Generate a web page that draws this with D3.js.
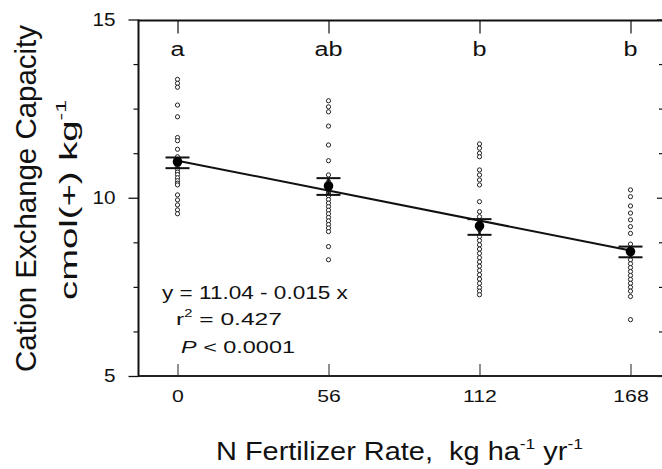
<!DOCTYPE html>
<html>
<head>
<meta charset="utf-8">
<script src="https://cdn.jsdelivr.net/npm/d3@7"></script>
<style>
  html, body { margin: 0; padding: 0; background: #fff; }
  svg { display: block; font-family: "Liberation Sans", Arial, Helvetica, sans-serif; }
</style>
</head>
<body>
<svg id="chart" width="662" height="469"></svg>
<script>
// ---------------- data ----------------
const categories = [0, 56, 112, 168];
const groupLetters = ["a", "ab", "b", "b"];
const obs0   = [13.32, 13.21, 13.10, 12.60, 12.27, 11.69, 11.60, 11.36, 11.15, 11.08, 11.00, 10.95, 10.88, 10.80, 10.72, 10.65, 10.56, 10.48, 10.41, 10.36, 10.08, 9.94, 9.80, 9.66, 9.55];
const obs56  = [12.72, 12.55, 12.41, 12.01, 11.48, 11.04, 10.64, 10.45, 10.20, 10.13, 10.05, 9.95, 9.85, 9.75, 9.65, 9.55, 9.45, 9.35, 9.25, 9.15, 9.05, 8.63, 8.26];
const obs112 = [11.51, 11.39, 11.25, 11.15, 10.78, 10.64, 10.50, 10.36, 9.89, 9.61, 9.47, 9.30, 9.10, 8.91, 8.80, 8.68, 8.56, 8.44, 8.32, 8.20, 8.08, 7.96, 7.84, 7.72, 7.60, 7.48, 7.38, 7.28];
const obs168 = [10.22, 10.03, 9.77, 9.57, 9.38, 9.19, 9.00, 8.70, 8.55, 8.26, 8.15, 8.04, 7.93, 7.82, 7.71, 7.60, 7.49, 7.38, 7.23, 6.58];
const observations = [obs0, obs56, obs112, obs168];
const means   = [11.01, 10.33, 9.21, 8.49];
const seUpper = [11.13, 10.55, 9.40, 8.63];
const seLower = [10.83, 10.08, 8.96, 8.33];
const yMajorTicks = [5, 10, 15];
const yMinorTicks = [6.25, 7.5, 8.75, 11.25, 12.5, 13.75];
const intercept = 11.04, slope = -0.015;
const eqLines = [
  [{t: "y = 11.04 - 0.015 x"}],
  [{t: "r"}, {t: "2", sup: true}, {t: " = 0.427"}],
  [{t: "P", italic: true}, {t: " < 0.0001"}]
];
const yTitle1 = [{t: "Cation Exchange Capacity"}];
const yTitle2 = [{t: "cmol(+) kg"}, {t: "-1", sup: true}];
const xTitle = [{t: "N Fertilizer Rate,  kg ha"}, {t: "-1", sup: true}, {t: " yr"}, {t: "-1", sup: true}];

// ---------------- layout ----------------
const W = 662, H = 469;
const plotLeft = 138.5, plotRight = 664, plotTop = 20.5, plotBottom = 376;
const svg = d3.select("#chart");

const x = d3.scaleLinear().domain([0, 168]).range([177.5, 630.5]);
const y = d3.scaleLinear().domain([5, 15]).range([plotBottom, 19.5]);

// stretched text helper
function stretchText(parent, o) {
  const g = parent.append("g");
  const text = g.append("text")
    .attr("font-size", o.size)
    .attr("text-anchor", o.anchor || "start")
    .attr("fill", "#111")
    .style("white-space", "pre");
  let prevSup = false;
  o.parts.forEach(p => {
    const ts = text.append("tspan").text(p.t);
    if (p.italic) ts.attr("font-style", "italic");
    if (p.sup) {
      ts.attr("font-size", o.size * 0.6).attr("dy", -o.size * 0.45);
      prevSup = true;
    } else if (prevSup) {
      ts.attr("dy", o.size * 0.45);
      prevSup = false;
    }
  });
  const w = text.node().getComputedTextLength();
  const sx = o.width ? o.width / w : (o.sx || 1);
  g.attr("transform", `translate(${o.x},${o.y}) rotate(${o.rotate || 0}) scale(${sx},${o.sy || 1})`);
  return g;
}

// ---------------- axes & frame ----------------
const axisColor = "#111";
// left axis
const gLeft = svg.append("g").attr("transform", `translate(${plotLeft},0)`)
  .call(d3.axisLeft(y).tickValues(yMajorTicks).tickSize(10).tickPadding(13).tickFormat(d3.format("d")));
gLeft.select(".domain").remove();
gLeft.selectAll("line").attr("stroke", axisColor).attr("stroke-width", 1.3);
gLeft.selectAll("text").attr("font-size", 18.5).attr("fill", "#111")
  .attr("font-family", "'Liberation Sans', Arial, sans-serif")
  .each(function () {
    const t = d3.select(this); const xx = +t.attr("x");
    t.attr("x", 0).attr("transform", `translate(${xx},0) scale(1.12,1)`);
  });
const gLeftMinor = svg.append("g").attr("transform", `translate(${plotLeft},0)`)
  .call(d3.axisLeft(y).tickValues(yMinorTicks).tickSize(5).tickFormat(""));
gLeftMinor.select(".domain").remove();
gLeftMinor.selectAll("line").attr("stroke", axisColor).attr("stroke-width", 1.2);

// right axis (inward ticks)
const gRight = svg.append("g").attr("transform", `translate(${plotRight},0)`)
  .call(d3.axisRight(y).tickValues(yMajorTicks).tickSize(-7).tickFormat(""));
gRight.select(".domain").remove();
gRight.selectAll("line").attr("stroke", axisColor).attr("stroke-width", 1.2);
const gRightMinor = svg.append("g").attr("transform", `translate(${plotRight},0)`)
  .call(d3.axisRight(y).tickValues(yMinorTicks).tickSize(-5).tickFormat(""));
gRightMinor.select(".domain").remove();
gRightMinor.selectAll("line").attr("stroke", axisColor).attr("stroke-width", 1.2);

// bottom axis (inward ticks)
const gBottom = svg.append("g").attr("transform", `translate(0,${plotBottom})`)
  .call(d3.axisBottom(x).tickValues(categories).tickSizeInner(-12).tickSizeOuter(0).tickPadding(14));
gBottom.select(".domain").remove();
gBottom.selectAll("line").attr("stroke", "#444").attr("stroke-width", 1.2);
gBottom.selectAll("text").attr("font-size", 17).attr("fill", "#111")
  .attr("font-family", "'Liberation Sans', Arial, sans-serif")
  .attr("transform", function () { return "scale(1.25,1)"; })
  .each(function () {
    // keep centered after horizontal stretch: ticks are translated groups, text at x=0
  });

// top axis (inward ticks)
const gTop = svg.append("g").attr("transform", `translate(0,${plotTop})`)
  .call(d3.axisTop(x).tickValues(categories).tickSizeInner(-13).tickSizeOuter(0).tickFormat(""));
gTop.select(".domain").remove();
gTop.selectAll("line").attr("stroke", axisColor).attr("stroke-width", 1.2);

// frame lines
svg.append("line").attr("x1", plotLeft).attr("x2", plotLeft).attr("y1", plotTop - 1).attr("y2", plotBottom + 1)
  .attr("stroke", axisColor).attr("stroke-width", 2);
svg.append("line").attr("x1", plotLeft).attr("x2", W).attr("y1", plotTop).attr("y2", plotTop)
  .attr("stroke", axisColor).attr("stroke-width", 1.8);
svg.append("line").attr("x1", plotLeft).attr("x2", W).attr("y1", plotBottom).attr("y2", plotBottom)
  .attr("stroke", "#222").attr("stroke-width", 2);

// ---------------- marks ----------------
// individual observations
categories.forEach((c, i) => {
  svg.append("g").selectAll("circle").data(observations[i]).join("circle")
    .attr("cx", x(c)).attr("cy", d => y(d)).attr("r", 2.1)
    .attr("fill", "#fff").attr("stroke", "#222").attr("stroke-width", 1);
});

// regression line
const line = d3.line().x(d => x(d)).y(d => y(intercept + slope * d));
svg.append("path").datum([categories[0], categories[categories.length - 1]])
  .attr("d", line).attr("fill", "none").attr("stroke", "#111").attr("stroke-width", 2);

// means with SE bars
const capHalf = 12;
const gm = svg.append("g");
categories.forEach((c, i) => {
  gm.append("line").attr("x1", x(c)).attr("x2", x(c)).attr("y1", y(seUpper[i])).attr("y2", y(seLower[i]))
    .attr("stroke", "#111").attr("stroke-width", 2.5);
  [seUpper[i], seLower[i]].forEach(v => {
    gm.append("line").attr("x1", x(c) - capHalf).attr("x2", x(c) + capHalf).attr("y1", y(v)).attr("y2", y(v))
      .attr("stroke", "#111").attr("stroke-width", 2);
  });
  gm.append("circle").attr("cx", x(c)).attr("cy", y(means[i])).attr("r", 4.8).attr("fill", "#000");
});

// group letters
categories.forEach((c, i) => {
  stretchText(svg, {x: x(c), y: 56, size: 21, anchor: "middle", sx: 1.2, parts: [{t: groupLetters[i]}]});
});

// equation text
stretchText(svg, {x: 162, y: 299, size: 18, width: 186, parts: eqLines[0]});
stretchText(svg, {x: 176, y: 325, size: 17, width: 106, parts: eqLines[1]});
stretchText(svg, {x: 181, y: 353, size: 16.5, width: 114, parts: eqLines[2]});

// axis titles
stretchText(svg, {x: 36, y: 198.5, size: 26, anchor: "middle", rotate: -90, width: 347, sy: 1.1, parts: yTitle1});
stretchText(svg, {x: 77, y: 200, size: 22, anchor: "middle", rotate: -90, width: 200, sy: 1.1, parts: yTitle2});
stretchText(svg, {x: 216, y: 460, size: 25, anchor: "start", width: 367, parts: xTitle});
</script>
</body>
</html>
